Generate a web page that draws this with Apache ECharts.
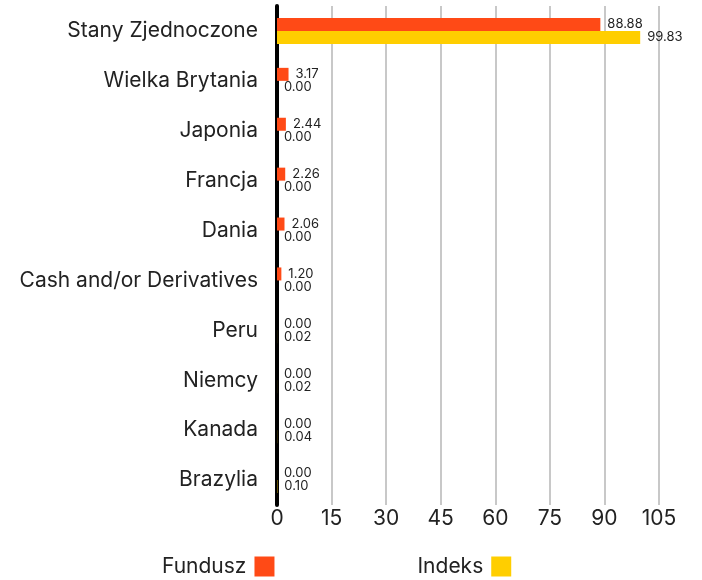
<!DOCTYPE html>
<html>
<head>
<meta charset="utf-8">
<script src="https://cdn.jsdelivr.net/npm/echarts@6/dist/echarts.min.js"></script>
<style>html,body{margin:0;padding:0;background:#fff}#c{width:702px;height:580px}</style>
</head>
<body>
<div id="c"></div>
<script>
const categories = ["Stany Zjednoczone","Wielka Brytania","Japonia","Francja","Dania","Cash and/or Derivatives","Peru","Niemcy","Kanada","Brazylia"];
const fundusz = [88.88,3.17,2.44,2.26,2.06,1.20,0.00,0.00,0.00,0.00];
const indeks = [99.83,0.00,0.00,0.00,0.00,0.00,0.02,0.02,0.04,0.10];
const xTicks = [0,15,30,45,60,75,90,105];

const FONT = 'Inter';
const chart = echarts.init(document.getElementById('c'));
const lbl = {
  show: true, position: 'right', distance: 7,
  fontFamily: FONT, fontSize: 13, color: '#222',
  formatter: p => Number(p.value).toFixed(2)
};
chart.setOption({
  animation: false,
  textStyle: {fontFamily: FONT},
  grid: {left: 277, right: 43, top: 6, bottom: 75, containLabel: false},
  legend: {
    left: 157, top: 551, align: 'right', itemWidth: 20, itemHeight: 20, itemGap: 143,
    icon: 'rect',
    textStyle: {fontFamily: FONT, fontSize: 21, color: '#222', padding: [0, 3, 0, 0]},
    data: ['Fundusz','Indeks']
  },
  xAxis: {
    type: 'value', min: xTicks[0], max: xTicks[xTicks.length-1], interval: 15,
    axisLine: {show: false}, axisTick: {show: false},
    splitLine: {show: true, lineStyle: {color: '#c8c8c8', width: 2}},
    axisLabel: {fontFamily: FONT, fontSize: 21, color: '#222', margin: 3}
  },
  yAxis: {
    type: 'category', data: categories, inverse: true,
    axisLine: {show: true, lineStyle: {color: '#000', width: 4}},
    axisTick: {show: false},
    axisLabel: {fontFamily: FONT, fontSize: 21, color: '#222', margin: 19}
  },
  series: [
    {name: 'Fundusz', type: 'bar', data: fundusz, barWidth: 13, barGap: '0%',
     itemStyle: {color: '#ff4a16'}, label: lbl},
    {name: 'Indeks', type: 'bar', data: indeks, barWidth: 13, barGap: '0%',
     itemStyle: {color: '#ffce00'}, label: lbl}
  ]
});
</script>
</body>
</html>
